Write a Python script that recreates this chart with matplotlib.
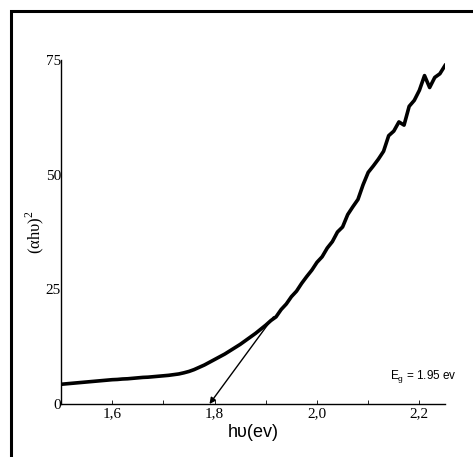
import matplotlib
matplotlib.use("Agg")
import matplotlib.pyplot as plt
from matplotlib.patches import Rectangle

plt.rcParams['mathtext.fontset'] = 'custom'
plt.rcParams['mathtext.rm'] = 'Liberation Serif'
plt.rcParams['mathtext.sf'] = 'Liberation Sans'

# photon energy (eV) and (alpha h nu)^2
energy = [1.50, 1.51, 1.52, 1.53, 1.54, 1.55, 1.56, 1.57, 1.58, 1.59,
          1.60, 1.61, 1.62, 1.63, 1.64, 1.65, 1.66, 1.67, 1.68, 1.69,
          1.70, 1.71, 1.72, 1.73, 1.74, 1.75, 1.76, 1.77, 1.78, 1.79,
          1.80, 1.81, 1.82, 1.83, 1.84, 1.85, 1.86, 1.87, 1.88, 1.89,
          1.90, 1.91, 1.92, 1.93, 1.94, 1.95, 1.96, 1.97, 1.98, 1.99,
          2.00, 2.01, 2.02, 2.03, 2.04, 2.05, 2.06, 2.07, 2.08, 2.09,
          2.10, 2.11, 2.12, 2.13, 2.14, 2.15, 2.16, 2.17, 2.18, 2.19,
          2.20, 2.21, 2.22, 2.23, 2.24, 2.25]
ahv2 = [4.3, 4.4, 4.5, 4.6, 4.7, 4.8, 4.9, 5.0, 5.1, 5.2,
        5.3, 5.35, 5.45, 5.5, 5.6, 5.7, 5.8, 5.85, 5.95, 6.05,
        6.15, 6.25, 6.4, 6.55, 6.8, 7.1, 7.5, 8.0, 8.5, 9.1,
        9.7, 10.3, 10.9, 11.6, 12.3, 13.0, 13.8, 14.6, 15.4, 16.3,
        17.2, 18.2, 19.0, 20.6, 21.8, 23.4, 24.6, 26.3, 27.8, 29.2,
        30.9, 32.1, 34.0, 35.4, 37.5, 38.6, 41.3, 43.0, 44.6, 47.8,
        50.5, 51.9, 53.4, 55.1, 58.5, 59.5, 61.5, 60.8, 64.9, 66.2,
        68.4, 71.6, 69.0, 71.2, 72.0, 73.8]

# tangent (extrapolation) line
tan_start = (1.915, 19.0)
tan_end = (1.79, 0.0)

xticks = [1.6, 1.8, 2.0, 2.2]
xticklabels = ['1,6', '1,8', '2,0', '2,2']
yticks = [0, 25, 50, 75]

fig = plt.figure(figsize=(4.73, 4.57), dpi=100)
fig.patches.append(Rectangle((11 / 473, -0.2), 1.2, 1.2 - 11 / 457,
                             transform=fig.transFigure, fill=False,
                             lw=2.2, ec='black'))
ax = fig.add_axes([61 / 473, 1 - 404 / 457, 384 / 473, 344 / 457])

ax.plot(energy, ahv2, color='black', lw=2.6)
ax.annotate('', xy=tan_end, xytext=tan_start,
            arrowprops=dict(arrowstyle='-|>', color='black', lw=1.0,
                            mutation_scale=9, shrinkA=0, shrinkB=0))

ax.set_xlim(1.5, 2.25)
ax.set_ylim(0, 75)
for s in ['top', 'right']:
    ax.spines[s].set_visible(False)
for s in ['left', 'bottom']:
    ax.spines[s].set_linewidth(1.0)

ax.set_xticks(xticks)
ax.set_xticklabels(xticklabels, family='Liberation Serif', fontsize=11)
ax.set_xticks([1.7, 1.9, 2.1], minor=True)
ax.set_yticks(yticks)
ax.set_yticklabels([str(v) for v in yticks], family='Liberation Serif', fontsize=11)
ax.tick_params(axis='x', which='both', direction='in', length=3, pad=2, width=0.6)
ax.tick_params(axis='y', direction='in', length=0, pad=0)

ax.set_xlabel('hυ(ev)', family='Liberation Sans', fontsize=13, labelpad=3)
ax.set_ylabel('(αhυ)$^2$', family='Liberation Serif', fontsize=12, labelpad=0)

ax.text(2.143, 5.5, r'E$_{\mathsf{g}}$ = 1.95 ev', family='Liberation Sans', fontsize=8.5)

fig.savefig('out.png', dpi=100)
